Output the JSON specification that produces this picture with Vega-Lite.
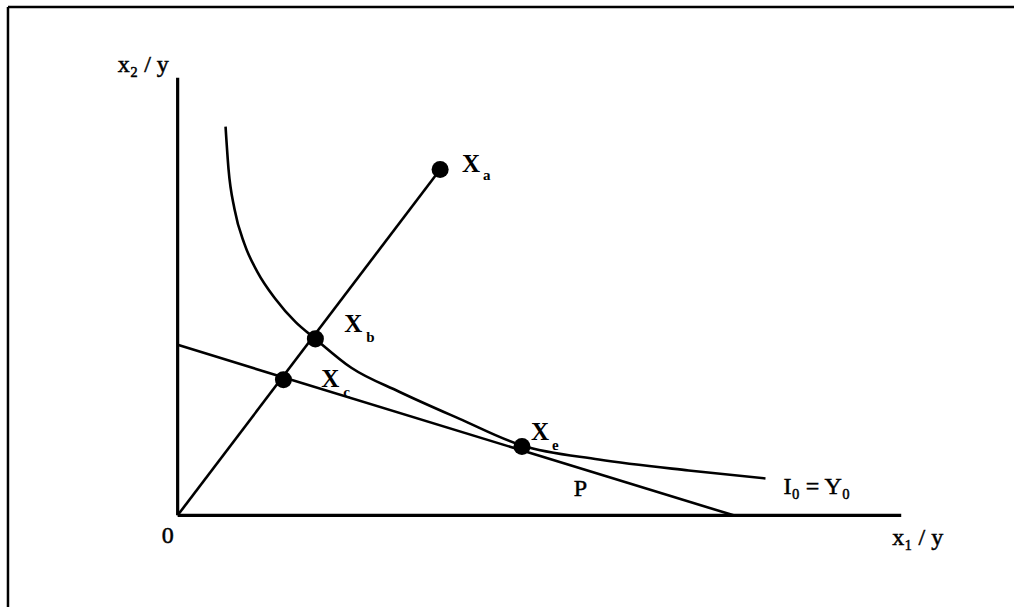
{
  "$schema": "https://vega.github.io/schema/vega-lite/v6.json",
  "width": 1016,
  "height": 609,
  "autosize": {"type": "fit", "contains": "padding"},
  "padding": 0,
  "background": "white",
  "config": {"view": {"stroke": null}},
  "datasets": {
    "segs": [
      {"kind": "border", "x": -17.0, "y": 51.0, "x2": 83.8, "y2": 51.0},
      {"kind": "border", "x": -17.0, "y": 51.0, "x2": -17.0, "y2": -9.2},
      {"kind": "axis", "x": 0, "y": 0, "x2": 0, "y2": 43.9},
      {"kind": "axis", "x": 0, "y": 0, "x2": 72.5, "y2": 0},
      {"kind": "line", "x": 0, "y": 0, "x2": 26.3, "y2": 34.7},
      {"kind": "line", "x": 0, "y": 17.1, "x2": 55.7, "y2": 0}
    ],
    "isoquant": [
      {"x": 4.8, "y": 39.0},
      {"x": 5.1, "y": 34.7},
      {"x": 5.7, "y": 30.7},
      {"x": 6.7, "y": 27.2},
      {"x": 8.0, "y": 24.4},
      {"x": 9.8, "y": 21.7},
      {"x": 11.8, "y": 19.4},
      {"x": 13.8, "y": 17.7},
      {"x": 17.4, "y": 14.8},
      {"x": 22.2, "y": 12.4},
      {"x": 28.2, "y": 9.7},
      {"x": 34.5, "y": 7.0},
      {"x": 42.2, "y": 5.6},
      {"x": 51.2, "y": 4.5},
      {"x": 58.9, "y": 3.7}
    ],
    "dots": [
      {"name": "Xa", "x": 26.3, "y": 34.7},
      {"name": "Xb", "x": 13.8, "y": 17.7},
      {"name": "Xc", "x": 10.6, "y": 13.6},
      {"name": "Xe", "x": 34.5, "y": 6.9}
    ],
    "labels": [
      {"kind": "main", "x": -6.0, "y": 45.2, "text": "x₂ / y"},
      {"kind": "main", "x": 71.6, "y": -2.3, "text": "x₁ / y"},
      {"kind": "main", "x": -1.6, "y": -2.1, "text": "0"},
      {"kind": "main", "x": 60.7, "y": 2.8, "text": "I₀ = Y₀"},
      {"kind": "main", "x": 39.7, "y": 2.6, "text": "P"},
      {"kind": "bold", "x": 28.5, "y": 35.2, "text": "X"},
      {"kind": "sub", "x": 30.6, "y": 34.1, "text": "a"},
      {"kind": "bold", "x": 16.7, "y": 19.2, "text": "X"},
      {"kind": "sub", "x": 18.9, "y": 17.9, "text": "b"},
      {"kind": "bold", "x": 14.4, "y": 13.7, "text": "X"},
      {"kind": "sub", "x": 16.6, "y": 12.4, "text": "c"},
      {"kind": "bold", "x": 35.4, "y": 8.4, "text": "X"},
      {"kind": "sub", "x": 37.5, "y": 7.1, "text": "e"}
    ]
  },
  "encoding": {
    "x": {"field": "x", "type": "quantitative", "scale": {"domain": [-17.8, 83.8], "nice": false, "zero": false}, "axis": null},
    "y": {"field": "y", "type": "quantitative", "scale": {"domain": [-9.2, 51.7], "nice": false, "zero": false}, "axis": null}
  },
  "layer": [
    {
      "data": {"name": "segs"},
      "transform": [{"filter": "datum.kind === 'border'"}],
      "mark": {"type": "rule", "color": "black", "strokeWidth": 2.5},
      "encoding": {"x2": {"field": "x2"}, "y2": {"field": "y2"}}
    },
    {
      "data": {"name": "segs"},
      "transform": [{"filter": "datum.kind === 'axis'"}],
      "mark": {"type": "rule", "color": "black", "strokeWidth": 3.2},
      "encoding": {"x2": {"field": "x2"}, "y2": {"field": "y2"}}
    },
    {
      "data": {"name": "segs"},
      "transform": [{"filter": "datum.kind === 'line'"}],
      "mark": {"type": "rule", "color": "black", "strokeWidth": 2.6},
      "encoding": {"x2": {"field": "x2"}, "y2": {"field": "y2"}}
    },
    {
      "data": {"name": "isoquant"},
      "mark": {"type": "line", "color": "black", "strokeWidth": 2.6, "interpolate": "monotone"},
      "encoding": {"order": {"field": "x", "type": "quantitative"}}
    },
    {
      "data": {"name": "dots"},
      "mark": {"type": "circle", "color": "black", "opacity": 1, "size": 290}
    },
    {
      "data": {"name": "labels"},
      "transform": [{"filter": "datum.kind === 'main'"}],
      "mark": {"type": "text", "font": "Liberation Serif", "fontSize": 24, "align": "left", "baseline": "middle", "color": "black", "stroke": "black", "strokeWidth": 0.5},
      "encoding": {"text": {"field": "text"}}
    },
    {
      "data": {"name": "labels"},
      "transform": [{"filter": "datum.kind === 'bold'"}],
      "mark": {"type": "text", "font": "Liberation Serif", "fontSize": 25, "fontWeight": "bold", "align": "left", "baseline": "middle", "color": "black"},
      "encoding": {"text": {"field": "text"}}
    },
    {
      "data": {"name": "labels"},
      "transform": [{"filter": "datum.kind === 'sub'"}],
      "mark": {"type": "text", "font": "Liberation Serif", "fontSize": 15, "fontWeight": "bold", "align": "left", "baseline": "middle", "color": "black"},
      "encoding": {"text": {"field": "text"}}
    }
  ]
}
